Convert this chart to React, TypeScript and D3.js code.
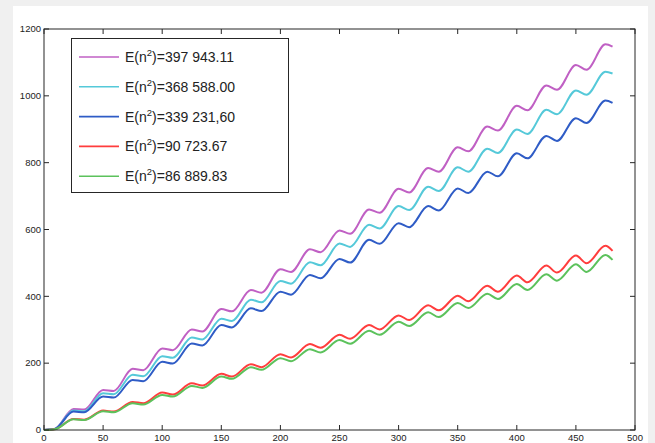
import React from "react";
import * as d3 from "d3";

// sample positions: start, then each period's top (25k) and the dip after it (25k+9)
const xs = [0, 9, 25, 34, 50, 59, 75, 84, 100, 109, 125, 134, 150, 159, 175, 184, 200, 209, 225, 234,
  250, 259, 275, 284, 300, 309, 325, 334, 350, 359, 375, 384, 400, 409, 425, 434, 450, 459, 475, 481];

const magenta = [0, 3, 63, 61, 120, 117, 183, 179, 244, 239, 301, 295, 362, 355, 419, 411, 481, 473, 541, 532,
  597, 587, 660, 650, 722, 711, 784, 773, 846, 834, 908, 896, 970, 957, 1031, 1018, 1092, 1078, 1154, 1147];
const cyan = [0, 3, 58, 56, 110, 107, 165, 161, 221, 216, 277, 271, 333, 326, 390, 382, 446, 438, 502, 493,
  558, 548, 614, 603, 670, 658, 728, 715, 786, 773, 842, 829, 899, 886, 958, 945, 1016, 1003, 1072, 1067];
const blue = [0, 3, 55, 53, 100, 97, 150, 146, 204, 199, 259, 253, 314, 307, 364, 356, 414, 405, 464, 454,
  512, 501, 569, 557, 619, 607, 670, 657, 723, 709, 773, 759, 828, 813, 880, 865, 933, 919, 986, 979];
const red = [0, 2, 33, 31, 58, 55, 84, 80, 112, 106, 140, 133, 168, 160, 197, 188, 227, 217, 257, 246,
  285, 273, 314, 301, 343, 329, 373, 358, 402, 385, 432, 414, 462, 442, 492, 471, 522, 499, 551, 536];
const green = [0, 2, 32, 30, 56, 53, 80, 76, 105, 100, 132, 126, 160, 153, 188, 180, 215, 206, 242, 232,
  269, 258, 297, 285, 324, 311, 352, 338, 380, 365, 408, 392, 437, 419, 466, 447, 496, 473, 524, 509];

const labels = ["397 943.11", "368 588.00", "339 231,60", "90 723.67", "86 889.83"];
const colors = ["#c060c4", "#55c9d9", "#2f5cc6", "#ff3d3d", "#5cc25c"];
const xTicks = [0, 50, 100, 150, 200, 250, 300, 350, 400, 450, 500];
const yTicks = [0, 200, 400, 600, 800, 1000, 1200];

const series = [magenta, cyan, blue, red, green];

const W = 655;
const H = 443;
const left = 44, right = 635, top = 29, bottom = 430;
const font = "'Liberation Sans', Arial, sans-serif";

export default function App() {
  const x = d3.scaleLinear().domain([0, 500]).range([left, right]);
  const y = d3.scaleLinear().domain([0, 1200]).range([bottom, top]);
  const line = d3
    .line<number>()
    .x((d, i) => x(xs[i]))
    .y((d) => y(d))
    .curve(d3.curveMonotoneX);

  const tick = 5;

  return (
    <svg width={W} height={H} style={{ position: "absolute", left: 0, top: 0 }}>
      <rect x={0} y={0} width={W} height={H} fill="#f0f0f0" />
      <rect x={13} y={6} width={635} height={H - 6} fill="#ffffff" />

      {series.map((s, i) => (
        <path key={i} d={line(s) || ""} fill="none" stroke={colors[i]} strokeWidth={2} strokeLinejoin="round" />
      ))}

      {/* box */}
      <rect x={left} y={top} width={right - left} height={bottom - top} fill="none" stroke="#262626" strokeWidth={1} />

      {xTicks.map((t) => (
        <g key={"x" + t}>
          <line x1={x(t)} x2={x(t)} y1={bottom} y2={bottom - tick} stroke="#262626" />
          <line x1={x(t)} x2={x(t)} y1={top} y2={top + tick} stroke="#262626" />
          <text x={x(t)} y={441} fontSize={9.5} fontFamily={font} textAnchor="middle" fill="#222">
            {t}
          </text>
        </g>
      ))}
      {yTicks.map((t) => (
        <g key={"y" + t}>
          <line x1={left} x2={left + tick} y1={y(t)} y2={y(t)} stroke="#262626" />
          <line x1={right} x2={right - tick} y1={y(t)} y2={y(t)} stroke="#262626" />
          <text x={41} y={y(t) + 3.3} fontSize={9.5} fontFamily={font} textAnchor="end" fill="#222">
            {t}
          </text>
        </g>
      ))}

      {/* legend */}
      <rect x={71.5} y={38.5} width={217} height={154} fill="#ffffff" stroke="#262626" strokeWidth={1} />
      {labels.map((lab, i) => {
        const cy = 57 + i * 29.8;
        return (
          <g key={lab}>
            <line x1={79} x2={119} y1={cy} y2={cy} stroke={colors[i]} strokeWidth={1.6} />
            <text x={125} y={cy + 5} fontSize={14} fontFamily={font} fill="#222">
              E(n
              <tspan fontSize={9.5} dy={-6}>2</tspan>
              <tspan dy={6}>)={lab}</tspan>
            </text>
          </g>
        );
      })}
    </svg>
  );
}
